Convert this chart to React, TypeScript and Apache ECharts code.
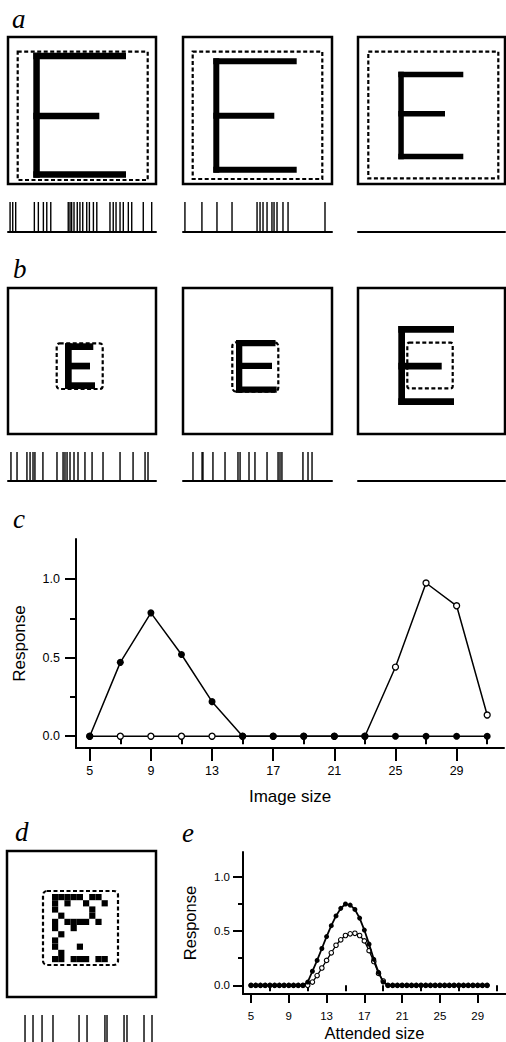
import React, { useEffect, useRef } from "react";
import * as echarts from "echarts";

// ---------- data ----------
const imageSizes = [5, 7, 9, 11, 13, 15, 17, 19, 21, 23, 25, 27, 29, 31];
const cFilled = [0.0, 0.47, 0.785, 0.52, 0.22, 0, 0, 0, 0, 0, 0, 0, 0, 0];
const cOpen = [0, 0, 0, 0, 0, 0, 0, 0, 0, 0, 0.44, 0.975, 0.83, 0.135];

const attendedSizes = [
  5, 5.5, 6, 6.5, 7, 7.5, 8, 8.5, 9, 9.5, 10, 10.5, 11, 11.5, 12, 12.5, 13, 13.5,
  14, 14.5, 15, 15.5, 16, 16.5, 17, 17.5, 18, 18.5, 19, 19.5, 20, 20.5, 21, 21.5,
  22, 22.5, 23, 23.5, 24, 24.5, 25, 25.5, 26, 26.5, 27, 27.5, 28, 28.5, 29, 29.5, 30,
];
const eFilled = [
  0, 0, 0, 0, 0, 0, 0, 0, 0, 0, 0, 0, 0.03, 0.13, 0.23, 0.34, 0.45, 0.55, 0.64,
  0.71, 0.75, 0.74, 0.7, 0.62, 0.51, 0.38, 0.24, 0.12, 0.03, 0, 0, 0, 0, 0, 0, 0,
  0, 0, 0, 0, 0, 0, 0, 0, 0, 0, 0, 0, 0, 0, 0,
];
const eOpen = [
  0, 0, 0, 0, 0, 0, 0, 0, 0, 0, 0, 0, 0, 0.03, 0.09, 0.16, 0.23, 0.3, 0.37, 0.42,
  0.46, 0.475, 0.48, 0.46, 0.41, 0.32, 0.22, 0.11, 0.04, 0, 0, 0, 0, 0, 0, 0, 0,
  0, 0, 0, 0, 0, 0, 0, 0, 0, 0, 0, 0, 0, 0,
];

const xMajorTicks = [5, 9, 13, 17, 21, 25, 29];
const xMinorTicks = [7, 11, 15, 19, 23, 27, 31];
const yMajorTicks = [0, 0.5, 1.0];
const yMinorTicks = [0.25, 0.75];

// spike times (ms within a 1000 ms window)
const spikesA1 = [14, 32, 52, 178, 205, 239, 262, 289, 407, 419, 430, 446, 468, 486, 505, 532, 550, 577, 600, 689, 711, 730, 757, 779, 813, 836, 914, 971];
const spikesA2 = [13, 127, 228, 329, 497, 517, 537, 564, 597, 611, 631, 671, 705, 953];
const spikesA3: number[] = [];
const spikesB1 = [20, 61, 128, 149, 169, 182, 236, 331, 372, 385, 399, 419, 446, 473, 520, 568, 642, 757, 845, 926, 946];
const spikesB2 = [67, 128, 134, 201, 282, 369, 383, 443, 483, 564, 638, 651, 664, 805, 839, 866];
const spikesB3: number[] = [];
const spikesD = [115, 169, 230, 304, 480, 534, 655, 669, 784, 804, 919, 973];

// noisy "E" pattern of panel d: [column, row]
const dNoiseCells = [
  [0, 0], [1, 0], [2, 0], [3, 0], [4, 0], [6, 0], [7, 0],
  [0, 1], [2, 1], [5, 1], [8, 1],
  [0, 2], [6, 2],
  [1, 3], [6, 3],
  [0, 4], [2, 4], [3, 4], [4, 4], [5, 4], [7, 4],
  [0, 5], [3, 5],
  [1, 6],
  [0, 7],
  [0, 8], [4, 8],
  [1, 9],
  [0, 10], [1, 10], [3, 10], [4, 10], [5, 10], [7, 10], [8, 10],
];

const FONT = "'Liberation Sans', Arial, Helvetica, sans-serif";
const SERIF = "'Liberation Serif', 'Times New Roman', serif";

function buildOption() {
  const g: any[] = [];
  const box = (x: number, y: number, w: number, h: number) =>
    g.push({ type: "rect", silent: true, shape: { x, y, width: w, height: h }, style: { fill: "none", stroke: "#000", lineWidth: 2.5 } });
  const dash = (x: number, y: number, w: number, h: number, r = 0) =>
    g.push({ type: "rect", silent: true, shape: { x, y, width: w, height: h, r }, style: { fill: "none", stroke: "#000", lineWidth: 2.2, lineDash: [4, 2.5] } });
  const solid = (x: number, y: number, w: number, h: number) =>
    g.push({ type: "rect", silent: true, shape: { x, y, width: w, height: h }, style: { fill: "#000" } });
  const letterE = (x: number, top: number, bottom: number, right: number, midRight: number, midTop: number, t: number, bottomRight = right) => {
    solid(x, top, t, bottom - top);
    solid(x, top, right - x, t);
    solid(x, midTop, midRight - x, t);
    solid(x, bottom - t, bottomRight - x, t);
  };
  const label = (s: string, x: number, y: number) =>
    g.push({ type: "text", silent: true, style: { text: s, x, y, fontSize: 27, fontFamily: SERIF, fontStyle: "italic", fill: "#000", textAlign: "left", textVerticalAlign: "middle" } });

  // panel a
  box(8, 37, 148, 147); box(183, 37, 149, 147); box(358, 37, 147, 147);
  letterE(33.3, 52.7, 177.7, 126, 99.3, 112.7, 6.5);
  letterE(213.3, 58.3, 172.7, 296.7, 274.3, 112.7, 6);
  letterE(398.3, 71.7, 159.3, 463.3, 445, 111, 5.5);
  dash(17.7, 51.7, 130, 128.3); dash(192.7, 51.7, 129.6, 127.3); dash(368.3, 51.7, 130, 126.6);

  // panel b
  box(8, 288, 148, 146); box(183, 288, 149, 146); box(358, 288, 147, 146);
  letterE(65, 343.3, 389, 93.3, 90, 362.7, 6.7, 95);
  dash(56.7, 343.3, 46, 45.7, 3);
  letterE(236, 340, 392.7, 275.5, 272, 362.7, 6.3, 276.7);
  dash(232.3, 342.3, 46, 49.4, 4);
  letterE(398.3, 326, 405, 454, 441.7, 362.7, 6.7);
  dash(407.3, 342.7, 45.4, 45.6, 2);

  // panel d
  box(7, 851, 149, 146);
  dNoiseCells.forEach(([c, r]) => solid(52 + c * 6.2, 894 + r * 6.2, 6.2, 6.2));
  dash(43, 891, 75, 74, 4);

  label("a", 12, 19);
  label("b", 13, 269);
  label("c", 13, 519);
  label("d", 15, 832);
  label("e", 182, 833);

  // grids
  const grids: any[] = [
    { left: 76, top: 539, width: 428, height: 209 }, // c
    { left: 243, top: 852, width: 263, height: 142 }, // e
  ];
  const trains = [
    { left: 8, top: 202, width: 148, height: 30, base: true, spikes: spikesA1 },
    { left: 183, top: 202, width: 149, height: 30, base: true, spikes: spikesA2 },
    { left: 358, top: 202, width: 147, height: 30, base: true, spikes: spikesA3 },
    { left: 8, top: 452, width: 148, height: 29, base: true, spikes: spikesB1 },
    { left: 183, top: 452, width: 149, height: 29, base: true, spikes: spikesB2 },
    { left: 358, top: 452, width: 147, height: 29, base: true, spikes: spikesB3 },
    { left: 8, top: 1015, width: 148, height: 29, base: false, spikes: spikesD },
  ];

  const axisLine = { show: true, onZero: false, lineStyle: { color: "#000", width: 2 } };
  const mkX = (gridIndex: number, min: number, max: number, major: boolean, tickLen: number, labelSize: number, margin: number, name?: string, nameGap?: number, nameSize?: number) => ({
    type: "value", gridIndex, min, max, position: "bottom",
    axisLine: major ? axisLine : { show: false },
    axisTick: { show: true, length: tickLen, customValues: major ? xMajorTicks : xMinorTicks, lineStyle: { color: "#000", width: 2 } },
    axisLabel: major ? { show: true, customValues: xMajorTicks, margin, fontSize: labelSize, color: "#000", fontFamily: FONT } : { show: false },
    splitLine: { show: false },
    name: major ? name : undefined, nameLocation: "middle", nameGap,
    nameTextStyle: { fontSize: nameSize, fontFamily: FONT, color: "#000" },
  });
  const mkY = (gridIndex: number, min: number, max: number, major: boolean, tickLen: number, labelSize: number, margin: number, name?: string, nameGap?: number, nameSize?: number) => ({
    type: "value", gridIndex, min, max, position: "left",
    axisLine: major ? axisLine : { show: false },
    axisTick: { show: true, length: tickLen, customValues: major ? yMajorTicks : yMinorTicks, lineStyle: { color: "#000", width: 2 } },
    axisLabel: major ? { show: true, customValues: yMajorTicks, margin, fontSize: labelSize, color: "#000", fontFamily: FONT, formatter: (v: number) => v.toFixed(1) } : { show: false },
    splitLine: { show: false },
    name: major ? name : undefined, nameLocation: "middle", nameGap,
    nameTextStyle: { fontSize: nameSize, fontFamily: FONT, color: "#000" },
  });

  const xAxis: any[] = [
    mkX(0, 4.1, 32.1, true, 13, 12.5, 16, "Image size", 40, 17),
    mkX(0, 4.1, 32.1, false, 8, 12.5, 16),
    mkX(1, 4.15, 32, true, 9, 11.5, 16, "Attended size", 30, 16.5),
    mkX(1, 4.15, 32, false, 6, 11.5, 16),
  ];
  const yAxis: any[] = [
    mkY(0, -0.075, 1.255, true, 11, 12.5, 16, "Response", 48, 17),
    mkY(0, -0.075, 1.255, false, 6, 12.5, 16),
    mkY(1, -0.08, 1.23, true, 10, 11.5, 13, "Response", 45, 16.5),
    mkY(1, -0.08, 1.23, false, 5, 11.5, 13),
  ];

  const series: any[] = [
    {
      type: "line", xAxisIndex: 0, yAxisIndex: 0, data: imageSizes.map((x, i) => [x, cOpen[i]]),
      symbol: "circle", symbolSize: 6, showAllSymbol: true,
      itemStyle: { color: "#fff", borderColor: "#000", borderWidth: 1.3 },
      lineStyle: { color: "#000", width: 1.5 }, z: 3,
    },
    {
      type: "line", xAxisIndex: 0, yAxisIndex: 0, data: imageSizes.map((x, i) => [x, cFilled[i]]),
      symbol: "circle", symbolSize: 7, showAllSymbol: true,
      itemStyle: { color: "#000" }, lineStyle: { color: "#000", width: 1.5 }, z: 4,
    },
    {
      type: "line", xAxisIndex: 2, yAxisIndex: 2, data: attendedSizes.map((x, i) => [x, eOpen[i]]),
      symbol: "circle", symbolSize: 4.5, showAllSymbol: true,
      itemStyle: { color: "#fff", borderColor: "#000", borderWidth: 1.1 },
      lineStyle: { color: "#000", width: 1.3 }, z: 3,
    },
    {
      type: "line", xAxisIndex: 2, yAxisIndex: 2, data: attendedSizes.map((x, i) => [x, eFilled[i]]),
      symbol: "circle", symbolSize: 5, showAllSymbol: true,
      itemStyle: { color: "#000" }, lineStyle: { color: "#000", width: 1.8 }, z: 4,
    },
  ];

  trains.forEach((t, k) => {
    const gi = grids.length;
    grids.push({ left: t.left, top: t.top, width: t.width, height: t.height });
    const ai = xAxis.length;
    xAxis.push({
      type: "value", gridIndex: gi, min: 0, max: 1000, position: "bottom",
      axisLine: t.base ? { show: true, onZero: false, lineStyle: { color: "#000", width: 2 } } : { show: false },
      axisTick: { show: false }, axisLabel: { show: false }, splitLine: { show: false },
    });
    yAxis.push({
      type: "value", gridIndex: gi, min: 0, max: 1,
      axisLine: { show: false }, axisTick: { show: false }, axisLabel: { show: false }, splitLine: { show: false },
    });
    series.push({
      type: "bar", name: "train" + k, xAxisIndex: ai, yAxisIndex: ai,
      data: t.spikes.map((s) => [s, 1]), barWidth: 1.4,
      itemStyle: { color: "#000" }, silent: true,
    });
  });

  return {
    animation: false,
    backgroundColor: "#fff",
    grid: grids,
    xAxis,
    yAxis,
    series,
    graphic: { elements: g },
  };
}

export default function App() {
  const ref = useRef<HTMLDivElement>(null);
  useEffect(() => {
    document.body.style.margin = "0";
    const chart = echarts.init(ref.current!, null, { renderer: "svg" });
    chart.setOption(buildOption() as any);
    return () => chart.dispose();
  }, []);
  return <div ref={ref} style={{ position: "absolute", left: 0, top: 0, width: 506, height: 1042 }} />;
}
